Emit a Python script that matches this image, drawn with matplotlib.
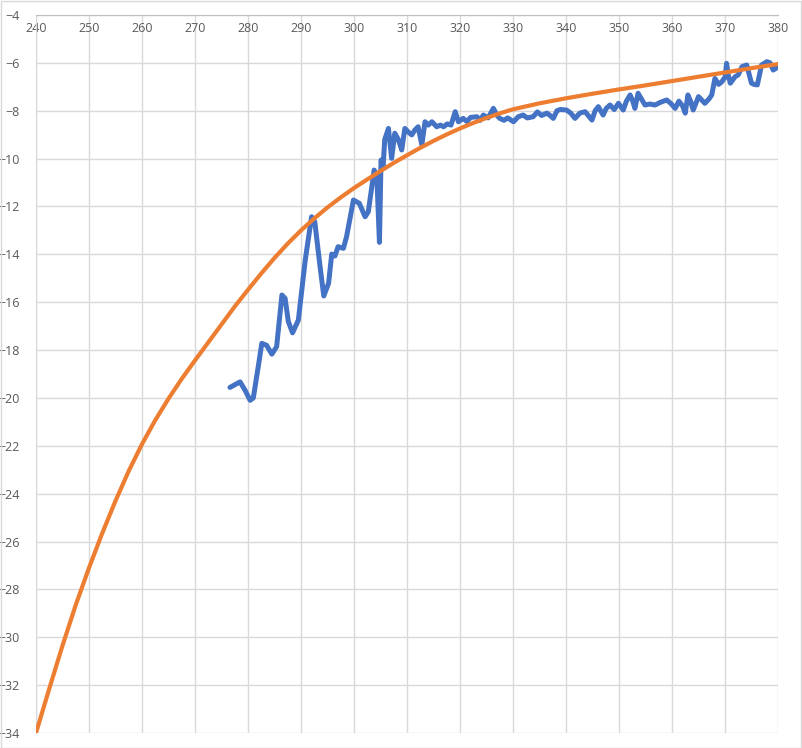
import matplotlib
matplotlib.use("Agg")
import matplotlib.pyplot as plt
from matplotlib.patches import Rectangle

# ---- data ----
fit_x = [240, 242.5, 245, 247.5, 250, 252.5, 255, 257.5, 260, 262.5, 265, 267.5, 270, 272.5, 275, 277.5,
         280, 282.5, 285, 287.5, 290, 292.5, 295, 297.5, 300, 302.5, 305, 307.5, 310, 312.5, 315, 317.5,
         320, 322.5, 325, 327.5, 330, 335, 340, 345, 350, 355, 360, 365, 370, 375, 380]
fit_y = [-34.0, -32.15, -30.35, -28.65, -27.1, -25.65, -24.3, -23.05, -21.93, -20.93, -20.03, -19.2, -18.43,
         -17.68, -16.93, -16.18, -15.48, -14.8, -14.15, -13.55, -13.0, -12.5, -12.04, -11.62, -11.23, -10.87,
         -10.52, -10.18, -9.86, -9.55, -9.26, -8.99, -8.74, -8.51, -8.3, -8.11, -7.94, -7.69, -7.48, -7.29,
         -7.11, -6.94, -6.76, -6.58, -6.4, -6.22, -6.05]

meas_x = [276.6, 278.5, 279.5, 280.4, 281.0, 282.0, 282.6, 283.5, 284.5, 285.4, 286.4, 287.0, 287.6, 288.4,
          289.5, 290.8, 292.0, 292.6, 293.6, 294.3, 295.2, 295.8, 296.4, 297.0, 298.0, 298.6, 299.9, 301.0,
          302.1, 302.7, 303.8, 304.3, 304.8, 305.1, 305.5, 305.8, 306.5, 307.1, 307.7, 308.4, 309.0, 309.6,
          310.3, 310.9, 311.5, 312.1, 312.8, 313.4, 314.0, 314.7, 315.6, 316.3, 316.9, 317.6, 318.3, 319.1,
          319.7, 320.6, 321.3, 322.0, 323.2, 323.8, 324.4, 325.3, 326.3, 327.0, 327.5, 328.3, 329.0, 330.1,
          331.0, 331.9, 332.7, 333.8, 334.6, 335.4, 336.4, 337.0, 337.6, 338.3, 338.9, 340.1, 340.9, 341.7,
          342.6, 343.6, 344.2, 344.9, 345.5, 346.1, 347.0, 347.6, 348.3, 349.1, 349.9, 350.8, 351.4, 352.1,
          352.6, 353.0, 353.6, 354.2, 354.9, 355.8, 356.8, 357.8, 359.0, 359.8, 360.6, 361.3, 362.0, 362.5,
          363.0, 363.5, 364.0, 365.0, 365.6, 366.2, 367.0, 367.5, 368.1, 368.8, 369.4, 370.0, 370.3, 370.6,
          371.0, 371.9, 372.5, 373.2, 374.1, 375.0, 375.5, 376.1, 376.5, 376.9, 377.9, 378.5, 379.1, 379.8]
meas_y = [-19.56, -19.33, -19.7, -20.1, -20.0, -18.6, -17.72, -17.8, -18.17, -17.86, -15.7, -15.84, -16.8, -17.28,
          -16.75, -14.24, -12.43, -12.64, -14.52, -15.74, -15.21, -13.99, -14.07, -13.68, -13.75, -13.26, -11.73, -11.87,
          -12.43, -12.22, -10.48, -10.69, -13.5, -10.06, -10.3, -9.2, -8.74, -9.99, -8.94, -9.22, -9.64, -8.74,
          -8.9, -9.01, -8.8, -8.67, -9.43, -8.46, -8.6, -8.46, -8.67, -8.6, -8.67, -8.55, -8.6, -8.04,
          -8.46, -8.32, -8.45, -8.28, -8.25, -8.4, -8.18, -8.3, -7.9, -8.2, -8.32, -8.4, -8.3, -8.46,
          -8.25, -8.18, -8.3, -8.25, -8.05, -8.2, -8.1, -8.2, -8.32, -8.0, -7.95, -7.97, -8.1, -8.32,
          -8.1, -8.04, -8.2, -8.39, -8.0, -7.83, -8.18, -7.9, -7.76, -7.95, -7.69, -7.97, -7.6, -7.34,
          -7.6, -7.9, -7.27, -7.5, -7.76, -7.72, -7.76, -7.65, -7.55, -7.7, -7.9, -7.6, -7.8, -8.1,
          -7.34, -7.6, -7.97, -7.41, -7.55, -7.69, -7.5, -7.34, -6.65, -6.9, -6.79, -6.6, -6.02, -6.5,
          -6.85, -6.58, -6.5, -6.16, -6.09, -6.85, -6.9, -6.92, -6.5, -6.09, -5.95, -6.0, -6.3, -6.2]

x_ticks = list(range(240, 381, 10))
y_ticks = list(range(-34, -3, 2))

# ---- figure ----
W, H = 802, 748
fig = plt.figure(figsize=(W / 100, H / 100), dpi=100)
fig.patches.append(Rectangle((0.5 / W, 0.5 / H), 1 - 1.5 / W, 1 - 1.5 / H, transform=fig.transFigure,
                             fill=False, edgecolor="#D9D9D9", linewidth=1))
ax = fig.add_axes([36 / W, (H - 733) / H, 742 / W, 718 / H])

ax.plot(meas_x, meas_y, color="#4472C4", linewidth=3.6, solid_joinstyle="round", solid_capstyle="round", zorder=3)
ax.plot(fit_x, fit_y, color="#ED7D31", linewidth=3.0, solid_joinstyle="round", solid_capstyle="round", zorder=4)

ax.set_xlim(240, 380)
ax.set_ylim(-34, -4)
ax.set_xticks(x_ticks)
ax.set_yticks(y_ticks)
ax.grid(True, color="#D9D9D9", linewidth=1)
ax.set_axisbelow(True)
for s in ax.spines.values():
    s.set_visible(False)
ax.spines["top"].set_visible(True)
ax.spines["top"].set_color("#BFBFBF")
ax.spines["left"].set_visible(True)
ax.spines["left"].set_color("#D9D9D9")

ax.tick_params(axis="x", top=False, bottom=False, labeltop=True, labelbottom=False, pad=-18,
               labelsize=9, labelcolor="#595959")
ax.tick_params(axis="y", left=False, right=False, pad=8, labelsize=9, labelcolor="#595959")
for lab in ax.get_xticklabels() + ax.get_yticklabels():
    lab.set_family("Open Sans")

fig.savefig("out.png", dpi=100)
